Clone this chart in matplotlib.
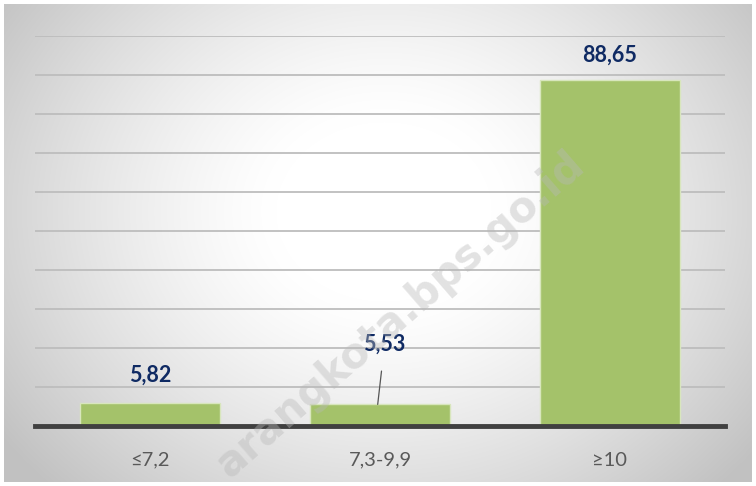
import numpy as np
import matplotlib
matplotlib.use("Agg")
import matplotlib.pyplot as plt

categories = ["≤7,2", "7,3-9,9", "≥10"]
values = [5.82, 5.53, 88.65]
labels = ["5,82", "5,53", "88,65"]

W, H = 756, 486
fig = plt.figure(figsize=(W / 100, H / 100), dpi=100)
fig.patch.set_facecolor("white")

# radial gradient background
bg = fig.add_axes([4 / W, 4 / H, 748 / W, 478 / H])
yy, xx = np.mgrid[0:478, 0:748]
cx, cy = 380, 270
r = np.sqrt(((xx - cx) / 1.2) ** 2 + (yy - cy) ** 2)
t = np.clip((r - 90) / 300, 0, 1)
shade = 1.0 - 0.24 * t ** 1.3
img = np.dstack([shade, shade, shade])
bg.imshow(img, aspect="auto", extent=[0, 1, 0, 1], origin="lower")
bg.set_axis_off()

ax = fig.add_axes([35 / W, 60 / H, 690 / W, 390 / H])
ax.patch.set_alpha(0)
x = np.arange(len(categories))
ax.bar(x, values, width=0.61, color="#a4c26a", edgecolor="#d8e6bd", linewidth=1.0, zorder=3)
ax.set_xlim(-0.5, 2.5)
ax.set_ylim(0, 100)
ax.set_yticks(np.arange(10, 101, 10))
ax.yaxis.grid(True, color="#bdbdbd", linewidth=1.3, zorder=0)
ax.tick_params(axis="y", left=False, labelleft=False)
ax.tick_params(axis="x", bottom=False, pad=15)
ax.set_xticks(x)
ax.set_xticklabels(categories, fontsize=14.5, color="#595959", family=["Lato", "DejaVu Sans"])
for s in ["top", "right", "left"]:
    ax.spines[s].set_visible(False)
ax.spines["bottom"].set_color("#404040")
ax.spines["bottom"].set_linewidth(3.5)
ax.spines["bottom"].set_zorder(4)

navy = "#0f2a63"
fs = 15.5
ax.text(x[0], values[0] + 7.2, labels[0], ha="center", va="center", fontsize=fs,
        fontweight="bold", color=navy, family="Lato", zorder=5)
ax.text(x[2], values[2] + 6.5, labels[2], ha="center", va="center", fontsize=fs,
        fontweight="bold", color=navy, family="Lato", zorder=5)
ax.annotate(labels[1], xy=(x[1] - 0.01, values[1]), xytext=(x[1] + 0.02, values[1] + 15.5),
            ha="center", va="center", fontsize=fs, fontweight="bold", color=navy, family="Lato",
            arrowprops=dict(arrowstyle="-", color="#555555", lw=0.9, shrinkA=10, shrinkB=0), zorder=5)

# watermark
fig.text(400 / W, 1 - 315 / H, "arangkota.bps.go.id", rotation=41, ha="center", va="center",
         fontsize=30, fontweight="bold", color="#b8b8b8", alpha=0.4, family="DejaVu Sans")

fig.savefig("out.png", dpi=100)
